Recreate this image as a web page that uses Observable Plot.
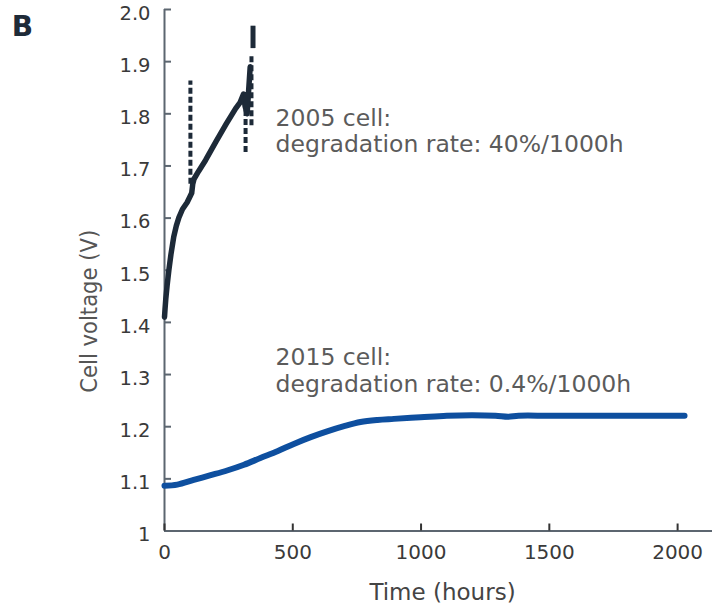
<!DOCTYPE html>
<html>
<head>
<meta charset="utf-8">
<script src="https://cdn.jsdelivr.net/npm/d3@7"></script>
<script src="https://cdn.jsdelivr.net/npm/@observablehq/plot@0.6"></script>
<style>
  html, body { margin: 0; padding: 0; background: #fff; }
</style>
</head>
<body>
<div id="chart"></div>
<script>
// ---- data ----
const xTicks = [0, 500, 1000, 1500, 2000];
const yTicks = [1, 1.1, 1.2, 1.3, 1.4, 1.5, 1.6, 1.7, 1.8, 1.9, 2.0];
const yTickLabels = ["1", "1.1", "1.2", "1.3", "1.4", "1.5", "1.6", "1.7", "1.8", "1.9", "2.0"];

// 2015 cell (blue)
const cell2015Hours = [0, 50, 114, 180, 244, 310, 374, 440, 504, 570, 634, 700, 764, 830, 894, 998, 1100, 1200, 1290, 1340, 1380, 1500, 1700, 1900, 2027];
const cell2015Volts = [1.087, 1.089, 1.098, 1.107, 1.116, 1.127, 1.140, 1.153, 1.167, 1.180, 1.191, 1.201, 1.209, 1.213, 1.215, 1.218, 1.221, 1.222, 1.221, 1.219, 1.221, 1.221, 1.221, 1.221, 1.221];

// 2005 cell (black) main trace
const cell2005Hours = [0, 2, 5, 10, 17, 25, 36, 46, 56, 70, 88, 100, 106, 110, 115, 133, 160, 200, 240, 277, 295, 308, 314, 322, 328, 334];
const cell2005Volts = [1.41, 1.425, 1.445, 1.47, 1.50, 1.53, 1.564, 1.585, 1.601, 1.617, 1.63, 1.642, 1.648, 1.665, 1.675, 1.69, 1.711, 1.746, 1.780, 1.810, 1.822, 1.838, 1.815, 1.80, 1.845, 1.89];

// 2005 cell noisy excursions (dashed vertical bursts)
const spikeHours = [101, 316, 339];
const spikeLow = [1.665, 1.726, 1.777];
const spikeHigh = [1.863, 1.841, 1.91];

// 2005 cell final blob
const capHours = [345];
const capLow = [1.925];
const capHigh = [1.968];

const noteHours = [433, 433];
const noteVolts = [1.812, 1.353];
const noteTexts = ["2005 cell:\ndegradation rate: 40%/1000h", "2015 cell:\ndegradation rate: 0.4%/1000h"];

// ---- tables ----
const blue = cell2015Hours.map((t, i) => ({t, v: cell2015Volts[i]}));
const black = cell2005Hours.map((t, i) => ({t, v: cell2005Volts[i]}));
const spikes = spikeHours.map((t, i) => ({t, lo: spikeLow[i], hi: spikeHigh[i]}));
const caps = capHours.map((t, i) => ({t, lo: capLow[i], hi: capHigh[i]}));
const notes = noteHours.map((t, i) => ({t, v: noteVolts[i], text: noteTexts[i]}));

const axisColor = "#5c6670";
const W = 712, H = 604, ML = 164, MR = 0, MT = 9, MB = 73.5;
const frameW = W - ML - MR, frameH = H - MT - MB;

const chart = Plot.plot({
  width: W,
  height: H,
  marginLeft: ML,
  marginRight: MR,
  marginTop: MT,
  marginBottom: MB,
  style: {fontFamily: "DejaVu Sans, sans-serif", background: "#fff", color: "#333", overflow: "visible"},
  x: {domain: [0, 2136]},
  y: {domain: [1, 2]},
  marks: [
    // axes lines
    Plot.ruleX([0], {y1: 1, y2: 2, stroke: axisColor, strokeWidth: 2}),
    Plot.ruleY([1], {stroke: axisColor, strokeWidth: 2}),
    // inward ticks
    Plot.tickY(yTicks, {y: d => d, insetRight: frameW - 7, stroke: axisColor, strokeWidth: 2}),
    Plot.tickX(xTicks, {x: d => d, insetTop: frameH - 7, stroke: "#333", strokeWidth: 2}),
    // tick labels
    Plot.axisY({ticks: yTicks, tickSize: 0, tickPadding: 14, dy: 4, label: null,
      tickFormat: d => yTickLabels[yTicks.indexOf(d)], fontSize: 19.5, fill: "#3a3a3a"}),
    Plot.axisX({ticks: xTicks, tickSize: 0, tickPadding: 14, label: null,
      tickFormat: d => String(d), fontSize: 20, fill: "#3a3a3a"}),
    // 2015 cell
    Plot.line(blue, {x: "t", y: "v", stroke: "#0e4f9f", strokeWidth: 6, curve: "catmull-rom"}),
    // 2005 cell
    Plot.line(black, {x: "t", y: "v", stroke: "#1d2a38", strokeWidth: 5.5, strokeLinejoin: "round", strokeLinecap: "round"}),
    Plot.ruleX(spikes, {x: "t", y1: "lo", y2: "hi", stroke: "#1d2a38", strokeWidth: 4, strokeDasharray: "6,3"}),
    Plot.ruleX(caps, {x: "t", y1: "lo", y2: "hi", stroke: "#1d2a38", strokeWidth: 5}),
    // annotations
    Plot.text(notes, {x: "t", y: "v", text: "text", textAnchor: "start", lineAnchor: "top",
      lineHeight: 1.11, fontSize: 23.5, fill: "#5b5b5b"}),
    // axis titles
    Plot.text(["Cell voltage (V)"], {frameAnchor: "left", textAnchor: "middle", lineAnchor: "middle",
      rotate: -90, dx: -75, dy: 41, fontSize: 23.5, fill: "#555",
      fontFamily: "'Liberation Sans Narrow', 'Arial Narrow', 'DejaVu Sans Condensed', sans-serif"}),
    Plot.text(["Time (hours)"], {frameAnchor: "bottom", textAnchor: "middle", lineAnchor: "middle",
      dx: 4, dy: 61.5, fontSize: 23, fill: "#444"}),
    // panel letter
    Plot.text(["B"], {frameAnchor: "top-left", textAnchor: "middle", lineAnchor: "middle",
      dx: -142, dy: 18, fontSize: 28, fontWeight: "bold", fill: "#1e2b38"})
  ]
});

document.getElementById("chart").append(chart);
</script>
</body>
</html>
